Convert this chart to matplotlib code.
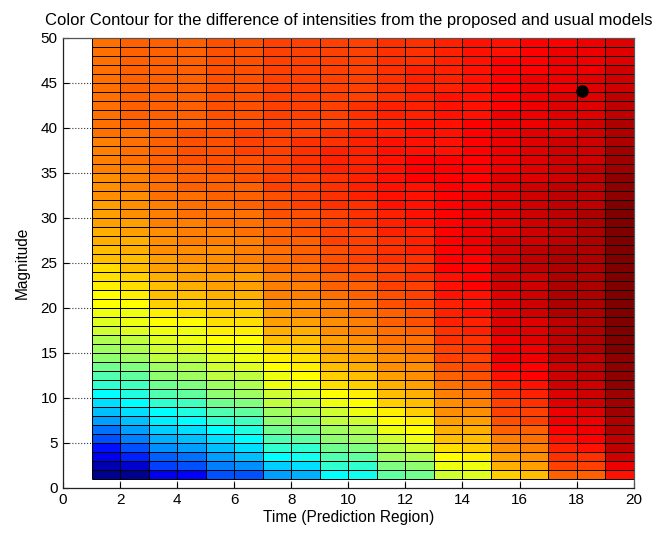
import numpy as np
import matplotlib
matplotlib.use("Agg")
import matplotlib.pyplot as plt
from matplotlib.colors import ListedColormap, Normalize

# ---------------- data ----------------
# grid nodes (cells span between consecutive nodes)
time_nodes = [1, 2, 3, 4, 5, 6, 7, 8, 9, 10, 11, 12, 13, 14, 15, 16, 17, 18, 19, 20]
magnitude_nodes = list(range(1, 51))

# intensity difference (relative, 0..1) per time cell, for magnitude cells 1..49 (bottom to top)
diff_t01 = [.015,.06,.11,.14,.2,.24,.28,.31,.345,.375,.42,.455,.485,.51,.53,.545,.57,.59,.6,.62,
            .625,.64,.655,.66,.68,.69,.7,.705,.71,.715,.72,.725,.73,.735,.74,.745,.75,.75,.76,.765,
            .765,.765,.765,.765,.765,.765,.765,.765,.765]
diff_t02 = [.02,.09,.155,.21,.25,.29,.32,.35,.375,.41,.445,.475,.5,.525,.545,.565,.585,.6,.615,.625,
            .64,.655,.665,.68,.69,.7,.705,.71,.72,.725,.73,.735,.74,.745,.75,.755,.76,.765,.765,.77,
            .77,.77,.77,.77,.77,.77,.77,.77,.77]
diff_t03 = [.12,.19,.23,.27,.3,.33,.355,.375,.42,.455,.485,.515,.53,.555,.57,.59,.605,.625,.645,.665,
            .68,.69,.7,.71,.72,.725,.73,.735,.74,.745,.75,.755,.76,.765,.77,.775,.775,.78,.78,.78,
            .78,.78,.78,.78,.78,.78,.78,.78,.78]
diff_t04 = [.13,.2,.245,.28,.315,.345,.375,.41,.445,.475,.5,.525,.545,.565,.585,.6,.615,.63,.65,.67,
            .685,.7,.71,.72,.73,.735,.74,.745,.75,.755,.76,.765,.77,.775,.78,.785,.79,.79,.785,.78,
            .78,.78,.78,.78,.78,.78,.78,.78,.78]
diff_t05 = [.2,.25,.29,.32,.35,.375,.42,.455,.485,.51,.535,.555,.575,.595,.61,.625,.645,.66,.675,.69,
            .7,.71,.72,.725,.73,.735,.745,.75,.755,.76,.765,.77,.775,.78,.785,.79,.79,.795,.79,.785,
            .785,.785,.785,.785,.785,.785,.785,.785,.785]
diff_t06 = [.21,.27,.31,.345,.375,.41,.445,.475,.5,.525,.545,.565,.585,.6,.615,.625,.64,.66,.675,.69,
            .7,.71,.72,.73,.74,.745,.75,.755,.76,.765,.77,.775,.78,.785,.79,.795,.8,.8,.8,.795,
            .795,.795,.795,.795,.795,.795,.795,.795,.795]
diff_t07 = [.29,.33,.375,.42,.455,.485,.51,.535,.555,.575,.6,.615,.625,.64,.66,.68,.695,.71,.72,.73,
            .74,.745,.75,.755,.76,.765,.77,.775,.78,.785,.79,.795,.8,.805,.81,.81,.81,.81,.805,.8,
            .8,.8,.8,.8,.8,.8,.8,.8,.8]
diff_t08 = [.3,.345,.39,.43,.465,.495,.52,.545,.565,.585,.605,.625,.64,.66,.675,.69,.705,.715,.725,.735,
            .745,.75,.76,.765,.77,.775,.78,.785,.79,.795,.8,.805,.81,.815,.82,.82,.82,.82,.815,.805,
            .805,.805,.805,.805,.805,.805,.805,.805,.805]
diff_t09 = [.38,.42,.455,.485,.51,.53,.555,.575,.6,.625,.65,.67,.69,.7,.71,.72,.73,.735,.745,.75,
            .76,.77,.775,.785,.79,.795,.8,.805,.81,.815,.82,.825,.83,.83,.835,.835,.835,.83,.825,.81,
            .81,.81,.805,.805,.805,.805,.805,.805,.805]
diff_t10 = [.39,.43,.47,.5,.525,.55,.575,.6,.625,.645,.665,.685,.7,.71,.72,.73,.74,.745,.755,.765,
            .775,.78,.79,.795,.8,.805,.81,.815,.82,.825,.83,.835,.84,.84,.845,.845,.845,.84,.835,.825,
            .82,.82,.815,.815,.81,.81,.81,.81,.81]
diff_t11 = [.47,.5,.525,.55,.575,.6,.625,.645,.665,.685,.7,.715,.725,.735,.745,.755,.765,.775,.78,.79,
            .795,.8,.81,.815,.82,.825,.83,.835,.84,.845,.85,.85,.855,.855,.855,.855,.855,.85,.845,.84,
            .835,.835,.83,.83,.825,.825,.82,.82,.82]
diff_t12 = [.49,.52,.55,.575,.6,.625,.645,.665,.685,.7,.715,.725,.735,.745,.755,.765,.775,.785,.79,.8,
            .805,.81,.82,.825,.83,.835,.84,.845,.85,.855,.86,.86,.86,.865,.865,.865,.86,.86,.855,.85,
            .845,.845,.84,.84,.835,.835,.83,.83,.825]
diff_t13 = [.57,.6,.625,.655,.68,.7,.71,.725,.735,.75,.765,.78,.79,.8,.81,.82,.83,.835,.84,.845,
            .85,.855,.86,.865,.865,.87,.87,.87,.87,.87,.87,.87,.87,.865,.865,.865,.86,.86,.855,.855,
            .85,.85,.85,.845,.845,.84,.84,.84,.84]
diff_t14 = [.59,.615,.64,.665,.69,.705,.72,.735,.745,.76,.775,.79,.8,.81,.82,.83,.84,.845,.85,.855,
            .86,.865,.87,.875,.875,.88,.88,.88,.88,.88,.88,.88,.875,.875,.875,.87,.87,.87,.865,.865,
            .86,.86,.86,.855,.855,.85,.85,.85,.85]
diff_t15 = [.67,.7,.715,.725,.745,.77,.785,.8,.815,.83,.845,.855,.87,.88,.885,.89,.895,.9,.9,.905,
            .905,.91,.91,.91,.91,.91,.91,.905,.905,.9,.9,.9,.895,.895,.89,.89,.89,.885,.885,.88,
            .88,.875,.875,.87,.87,.865,.865,.86,.86]
diff_t16 = [.68,.71,.725,.74,.76,.78,.8,.815,.83,.845,.855,.865,.875,.885,.89,.895,.9,.905,.91,.915,
            .915,.92,.92,.925,.925,.925,.92,.92,.92,.915,.915,.91,.91,.905,.905,.9,.9,.895,.895,.89,
            .89,.885,.885,.88,.88,.875,.875,.87,.87]
diff_t17 = [.77,.8,.82,.84,.86,.875,.885,.89,.9,.905,.91,.915,.92,.925,.93,.93,.935,.935,.94,.94,
            .94,.94,.94,.94,.94,.94,.935,.935,.935,.93,.93,.925,.925,.92,.92,.915,.91,.91,.905,.9,
            .9,.895,.895,.89,.89,.885,.885,.88,.875]
diff_t18 = [.78,.81,.83,.85,.865,.88,.89,.9,.91,.915,.92,.925,.93,.935,.94,.94,.945,.945,.95,.95,
            .95,.95,.95,.95,.95,.945,.945,.945,.94,.94,.935,.935,.93,.93,.925,.92,.92,.915,.91,.91,
            .905,.9,.9,.895,.895,.89,.89,.885,.885]
diff_t19 = [.86,.89,.91,.925,.935,.945,.95,.955,.96,.965,.97,.975,.975,.98,.985,.985,.99,.99,.995,.995,
            1.0,1.0,1.0,1.0,1.0,1.0,.995,.995,.99,.99,.985,.98,.975,.97,.965,.96,.955,.95,.945,.94,
            .935,.93,.925,.92,.915,.91,.905,.9,.895]

# marked point
point_time = [18.2]
point_mag = [44.1]

# ---------------- build ----------------
columns = [diff_t01, diff_t02, diff_t03, diff_t04, diff_t05, diff_t06, diff_t07, diff_t08, diff_t09,
           diff_t10, diff_t11, diff_t12, diff_t13, diff_t14, diff_t15, diff_t16, diff_t17, diff_t18, diff_t19]
for i, c in enumerate(columns):
    if len(c) != len(magnitude_nodes) - 1:
        raise ValueError(f"column {i+1} has {len(c)} values")
C = np.array(columns).T  # shape (49, 19)


def matlab_jet(m=64):
    n = int(np.ceil(m / 4))
    u = np.concatenate([np.arange(1, n + 1) / n, np.ones(n - 1), np.arange(n, 0, -1) / n])
    g = int(np.ceil(n / 2)) - (1 if m % 4 == 1 else 0) + np.arange(1, len(u) + 1)
    r = g + n
    b = g - n
    J = np.zeros((m, 3))
    mr = r <= m
    J[r[mr] - 1, 0] = u[mr]
    mg = g <= m
    J[g[mg] - 1, 1] = u[mg]
    mb = b > 0
    J[b[mb] - 1, 2] = u[mb]
    return ListedColormap(J)


plt.rcParams['font.family'] = ['Liberation Sans', 'DejaVu Sans']

fig = plt.figure(figsize=(6.56, 5.35), dpi=100)
ax = fig.add_axes([0.096, 0.088, 0.870, 0.841])

ax.pcolormesh(time_nodes, magnitude_nodes, C, cmap=matlab_jet(64),
              norm=Normalize(vmin=C.min(), vmax=C.max()),
              edgecolors='none', shading='flat', zorder=1)
# cell borders
ax.vlines(time_nodes, magnitude_nodes[0], magnitude_nodes[-1], colors='k',
          linewidth=0.72, antialiased=True, snap=True, zorder=2)
ax.hlines(magnitude_nodes, time_nodes[0], time_nodes[-1], colors='k',
          linewidth=0.72, antialiased=True, snap=True, zorder=2)
ax.plot(point_time, point_mag, 'o', color='k', markersize=8, zorder=3)

ax.set_xlim(0, 20)
ax.set_ylim(0, 50)
ax.set_xticks(np.arange(0, 21, 2))
ax.set_yticks(np.arange(0, 51, 5))
ax.set_axisbelow(True)
ax.grid(True, linestyle=':', color='#333333', linewidth=0.8)
ax.tick_params(direction='in', length=4, width=0.8, labelsize=11, top=False, right=False, pad=4)
for s in ['left', 'bottom']:
    ax.spines[s].set_color('#222222')
    ax.spines[s].set_linewidth(0.9)
for s in ['top', 'right']:
    ax.spines[s].set_color('#555555')
    ax.spines[s].set_linewidth(0.9)

ax.set_title('Color Contour for the difference of intensities from the proposed and usual models',
             fontsize=12, pad=9)
ax.set_xlabel('Time (Prediction Region)', fontsize=11.2, labelpad=2)
ax.set_ylabel('Magnitude', fontsize=11.2, labelpad=8)

fig.savefig('out.png', dpi=100)
